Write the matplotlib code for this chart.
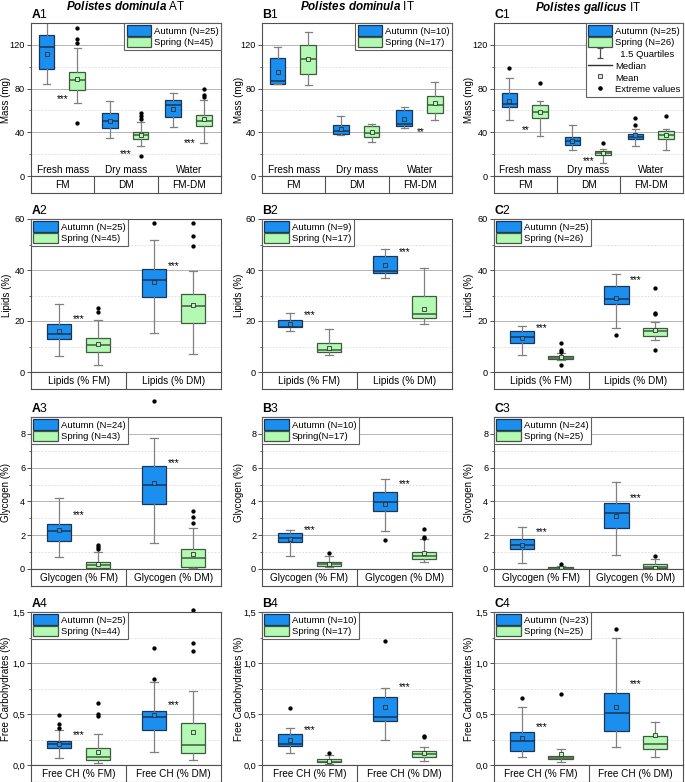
import matplotlib
matplotlib.use('Agg')
import matplotlib.pyplot as plt
import numpy as np
from matplotlib.patches import Patch
from matplotlib.lines import Line2D

plt.rcParams['font.family'] = ['Liberation Sans', 'DejaVu Sans']
plt.rcParams['mathtext.fontset'] = 'custom'
plt.rcParams['mathtext.rm'] = 'Liberation Sans'
plt.rcParams['mathtext.it'] = 'Liberation Sans:italic:bold'
plt.rcParams['mathtext.bf'] = 'Liberation Sans:bold'

# ---------------- data: [whislo, q1, median, q3, whishi, mean] ----------------
A1_autumn = [[84, 97.6, 117.6, 129, 141.5, 112], [34.8, 44, 50, 57.3, 68.5, 50.6], [44.5, 53.6, 64.8, 69.7, 75.8, 61.5]]
A1_autumn_out = [[], [], []]
A1_spring = [[66.7, 78.8, 87.6, 95.5, 117, 89], [27.3, 34.2, 37.3, 40, 49.4, 37.3], [30, 45.5, 50, 55.5, 69.4, 51.8]]
A1_spring_out = [[135, 125.5, 122, 48.5], [57.6, 55, 52, 18.5], [80, 74, 72]]
A1_stars = ["***", "***", "***"]
A1_star_y = [72.7, 23, 32.4]

B1_autumn = [[84, 84.5, 87, 108, 117.6, 95], [37.3, 38.5, 41.5, 46.7, 54.5, 43], [44.2, 46, 47.6, 60.6, 62.7, 51.8]]
B1_autumn_out = [[], [], []]
B1_spring = [[83, 93, 106.7, 120.3, 131.5, 106.7], [31.5, 36, 39.7, 45.5, 47.6, 40.3], [51.5, 57.6, 64.8, 73.6, 86.4, 66.4]]
B1_spring_out = [[], [], []]
B1_stars = ["", "", "**"]
B1_star_y = [0, 0, 43]

C1_autumn = [[51.5, 63.3, 65.8, 75.8, 90, 68.8], [23.6, 28.8, 31.8, 35.5, 46.4, 31.8], [27.6, 33.6, 36, 38.5, 42.7, 37.3]]
C1_autumn_out = [[99], [], [52.7, 46.7]]
C1_spring = [[36.7, 52.7, 58.2, 64.8, 68.8, 58.5], [11.8, 18.8, 21, 23, 24.5, 21], [24.2, 34.2, 37.3, 41.5, 43.3, 37.6]]
C1_spring_out = [[85], [30], [55]]
C1_stars = ["**", "***", ""]
C1_star_y = [44.5, 16.5, 0]

A2_autumn = [[6.3, 13, 15, 18.9, 26.7, 15.9], [15.3, 29.3, 35.9, 40.4, 51.9, 35.2]]
A2_autumn_out = [[], [58.4]]
A2_spring = [[2.6, 7.8, 10.4, 13.3, 20.2, 11], [7.2, 19.2, 25.8, 30.7, 39.8, 26.3]]
A2_spring_out = [[25, 23.5], [58.4, 53.5, 49.6]]
A2_star_y = [22, 42.8]

B2_autumn = [[15.9, 17.5, 17.8, 20.5, 23, 18.9], [36.8, 38.9, 39.8, 45.3, 48.3, 42]]
B2_autumn_out = [[], []]
B2_spring = [[6.5, 7.8, 8.5, 11.5, 17, 9.5], [18.7, 21.1, 22.8, 29.7, 40.8, 24.8]]
B2_spring_out = [[], []]
B2_star_y = [23.5, 48]

C2_autumn = [[6.5, 11.5, 13.8, 15.9, 17.9, 13.4], [17.3, 26.5, 28.7, 33.9, 38.5, 29]]
C2_autumn_out = [[], [14.6]]
C2_spring = [[4.6, 5.2, 5.6, 6.3, 7.3, 5.7], [12.4, 14.3, 15.9, 17.3, 19.8, 16.6]]
C2_spring_out = [[11.3, 8.5, 7.8, 2.9], [33, 23.2, 22.6, 8.5]]
C2_star_y = [18.3, 37.4]

A3_autumn = [[0.73, 1.65, 2.24, 2.69, 4.2, 2.3], [1.51, 3.83, 4.95, 6.09, 7.74, 5.11]]
A3_autumn_out = [[], [9.97]]
A3_spring = [[0.02, 0.08, 0.24, 0.43, 0.98, 0.29], [0.04, 0.14, 0.63, 1.18, 2.4, 0.86]]
A3_spring_out = [[1.45, 1.32, 1.18], [3.42, 3.09, 2.75]]
A3_star_y = [3.34, 6.43]

B3_autumn = [[0.79, 1.57, 1.81, 2.14, 2.3, 1.75], [2.24, 3.44, 3.97, 4.56, 5.3, 3.87]]
B3_autumn_out = [[], [1.71]]
B3_spring = [[0.14, 0.18, 0.29, 0.43, 0.77, 0.3], [0.41, 0.57, 0.77, 1.02, 1.75, 0.92]]
B3_spring_out = [[0.92], [2.34, 1.87, 1.81]]
B3_star_y = [2.5, 5.2]

C3_autumn = [[0.37, 1.16, 1.45, 1.79, 2.48, 1.45], [0.83, 2.44, 3.34, 3.93, 5.15, 3.14]]
C3_autumn_out = [[], []]
C3_spring = [[0.0, 0.02, 0.06, 0.1, 0.2, 0.06], [0.0, 0.04, 0.12, 0.28, 0.57, 0.08]]
C3_spring_out = [[0.28], [0.79]]
C3_star_y = [2.36, 4.36]

A4_autumn = [[0.066, 0.164, 0.206, 0.236, 0.34, 0.21], [0.131, 0.344, 0.475, 0.534, 0.81, 0.49]]
A4_autumn_out = [[0.36, 0.40, 0.495], [1.146, 0.84]]
A4_spring = [[0.016, 0.05, 0.082, 0.164, 0.305, 0.13], [0.05, 0.12, 0.193, 0.416, 0.727, 0.32]]
A4_spring_out = [[0.606, 0.5, 0.485], [1.52, 1.2, 1.12]]
A4_star_y = [0.32, 0.616]

B4_autumn = [[0.115, 0.19, 0.203, 0.305, 0.36, 0.25], [0.246, 0.436, 0.475, 0.665, 0.753, 0.567]]
B4_autumn_out = [[0.557], [1.218]]
B4_spring = [[0.01, 0.026, 0.033, 0.056, 0.10, 0.04], [0.04, 0.075, 0.105, 0.141, 0.174, 0.12]]
B4_spring_out = [[0.115], [0.285, 0.27]]
B4_star_y = [0.367, 0.79]

C4_autumn = [[0.075, 0.14, 0.236, 0.328, 0.573, 0.26], [0.174, 0.334, 0.514, 0.71, 1.25, 0.573]]
C4_autumn_out = [[0.655], [1.333]]
C4_spring = [[0.026, 0.059, 0.072, 0.092, 0.154, 0.108], [0.075, 0.157, 0.206, 0.288, 0.426, 0.295]]
C4_spring_out = [[0.694], []]
C4_star_y = [0.4, 0.82]

row1_inner = ["Fresh mass", "Dry mass", "Water"]
row1_band = ["FM", "DM", "FM-DM"]
row2_band = ["Lipids (% FM)", "Lipids (% DM)"]
row3_band = ["Glycogen (% FM)", "Glycogen (% DM)"]
row4_band = ["Free CH (% FM)", "Free CH (% DM)"]
ylabels = ["Mass (mg)", "Lipids (%)", "Glycogen (%)", "Free Carbohydrates (%)"]
titles = [("Polistes\\ dominula", "AT"), ("Polistes\\ dominula", "IT"), ("Polistes\\ gallicus", "IT")]

N_labels = {
    "A1": ("Autumn (N=25)", "Spring (N=45)"), "B1": ("Autumn (N=10)", "Spring (N=17)"), "C1": ("Autumn (N=25)", "Spring (N=26)"),
    "A2": ("Autumn (N=25)", "Spring (N=45)"), "B2": ("Autumn (N=9)", "Spring (N=17)"), "C2": ("Autumn (N=25)", "Spring (N=26)"),
    "A3": ("Autumn (N=24)", "Spring (N=43)"), "B3": ("Autumn (N=10)", "Spring(N=17)"), "C3": ("Autumn (N=24)", "Spring (N=25)"),
    "A4": ("Autumn (N=25)", "Spring (N=44)"), "B4": ("Autumn (N=10)", "Spring (N=17)"), "C4": ("Autumn (N=23)", "Spring (N=25)"),
}

# ---------------- layout ----------------
W, H = 685, 782
fig = plt.figure(figsize=(W / 100, H / 100), dpi=100)

col_x = [(31, 221), (262, 452), (494, 683)]
ylabel_cx = [6.5, 238.5, 469]
row_y = [(23, 176), (219, 372), (417, 569), (612, 765)]
band_h = 16.5

AUT_FC, AUT_EC = '#1a8ff0', '#1d3550'
SPR_FC, SPR_EC = '#b3f9b3', '#3f5a3f'
WHISK = '#808080'
SPINE = '#505050'
FS_TICK = 6.6
FS_LEG = 6.8
FS_LAB = 7.0

row_cfg = [
    dict(ylim=(0, 140), major=[0, 40, 80, 120], minor=[20, 60, 100], fmt=None, ngroups=3, offs=(0.245, 0.73), w=0.25, cw=0.11),
    dict(ylim=(0, 60), major=[0, 20, 40, 60], minor=[10, 30, 50], fmt=None, ngroups=2, offs=(0.295, 0.705), w=0.26, cw=0.085),
    dict(ylim=(0, 9), major=[0, 2, 4, 6, 8], minor=[1, 3, 5, 7], fmt=None, ngroups=2, offs=(0.295, 0.705), w=0.26, cw=0.085),
    dict(ylim=(0, 1.5), major=[0, 0.5, 1.0, 1.5], minor=[0.25, 0.75, 1.25], fmt=['0,0', '0,5', '1,0', '1,5'], ngroups=2, offs=(0.295, 0.705), w=0.26, cw=0.085),
]

panels = {
    "A1": (A1_autumn, A1_autumn_out, A1_spring, A1_spring_out, A1_stars, A1_star_y),
    "B1": (B1_autumn, B1_autumn_out, B1_spring, B1_spring_out, B1_stars, B1_star_y),
    "C1": (C1_autumn, C1_autumn_out, C1_spring, C1_spring_out, C1_stars, C1_star_y),
    "A2": (A2_autumn, A2_autumn_out, A2_spring, A2_spring_out, ["***", "***"], A2_star_y),
    "B2": (B2_autumn, B2_autumn_out, B2_spring, B2_spring_out, ["***", "***"], B2_star_y),
    "C2": (C2_autumn, C2_autumn_out, C2_spring, C2_spring_out, ["***", "***"], C2_star_y),
    "A3": (A3_autumn, A3_autumn_out, A3_spring, A3_spring_out, ["***", "***"], A3_star_y),
    "B3": (B3_autumn, B3_autumn_out, B3_spring, B3_spring_out, ["***", "***"], B3_star_y),
    "C3": (C3_autumn, C3_autumn_out, C3_spring, C3_spring_out, ["***", "***"], C3_star_y),
    "A4": (A4_autumn, A4_autumn_out, A4_spring, A4_spring_out, ["***", "***"], A4_star_y),
    "B4": (B4_autumn, B4_autumn_out, B4_spring, B4_spring_out, ["***", "***"], B4_star_y),
    "C4": (C4_autumn, C4_autumn_out, C4_spring, C4_spring_out, ["***", "***"], C4_star_y),
}
band_labels = [row1_band, row2_band, row3_band, row4_band]


def mkstats(stats, outs):
    res = []
    for s, o in zip(stats, outs):
        res.append(dict(whislo=s[0], q1=s[1], med=s[2], q3=s[3], whishi=s[4], mean=s[5], fliers=np.array(o, dtype=float)))
    return res


def draw_boxes(ax, stats, outs, pos, w, cw, fc, ec):
    bp = ax.bxp(mkstats(stats, outs), positions=pos, widths=w, capwidths=cw, patch_artist=True,
                showmeans=True, manage_ticks=False,
                boxprops=dict(facecolor=fc, edgecolor=ec, linewidth=0.9),
                medianprops=dict(color=ec, linewidth=1.1),
                whiskerprops=dict(color=WHISK, linewidth=0.9),
                capprops=dict(color=WHISK, linewidth=0.9),
                flierprops=dict(marker='o', markersize=2.1, markerfacecolor='black', markeredgecolor='black', linestyle='none'),
                meanprops=dict(marker='s', markersize=2.3, markerfacecolor=fc, markeredgecolor='#303030', markeredgewidth=0.6))
    for f in bp['fliers']:
        f.set_clip_on(False)
    return bp


for r in range(4):
    cfg = row_cfg[r]
    for c in range(3):
        key = "ABC"[c] + str(r + 1)
        x0, x1 = col_x[c]
        y0, y1 = row_y[r]
        ax = fig.add_axes([x0 / W, 1 - y1 / H, (x1 - x0) / W, (y1 - y0) / H])
        aut, aut_out, spr, spr_out, stars, star_y = panels[key]
        ng = cfg['ngroups']
        groups = np.arange(ng)
        draw_boxes(ax, aut, aut_out, groups + cfg['offs'][0], cfg['w'], cfg['cw'], AUT_FC, AUT_EC)
        draw_boxes(ax, spr, spr_out, groups + cfg['offs'][1], cfg['w'], cfg['cw'], SPR_FC, SPR_EC)
        ax.set_xlim(0, ng)
        ax.set_ylim(*cfg['ylim'])
        ax.set_xticks([])
        ax.set_yticks(cfg['major'])
        ax.set_yticks(cfg['minor'], minor=True)
        if cfg['fmt']:
            ax.set_yticklabels(cfg['fmt'])
        ax.tick_params(axis='y', which='major', labelsize=FS_TICK, length=3, width=0.7, color=SPINE, pad=1.2)
        ax.tick_params(axis='y', which='minor', length=1.8, width=0.6, color=SPINE)
        ax.yaxis.grid(True, which='major', color='#b4b4b4', linewidth=0.7)
        ax.yaxis.grid(True, which='minor', color='#d9d9d9', linewidth=0.6, linestyle=(0, (2, 2)))
        ax.set_axisbelow(True)
        for sp in ax.spines.values():
            sp.set_color(SPINE)
            sp.set_linewidth(0.8)
        ax.set_ylabel(ylabels[r], fontsize=FS_LAB)
        ax.yaxis.label.set_verticalalignment('center')
        ax.yaxis.set_label_coords((ylabel_cx[c] - x0) / (x1 - x0), 0.5)

        for g, (s, y) in enumerate(zip(stars, star_y)):
            if s:
                ax.annotate(s, (g + 0.5, y), xytext=(0, -4.3), textcoords='offset points',
                            ha='center', va='baseline', fontsize=7.2)

        if r == 0:
            for g, lab in enumerate(row1_inner):
                ax.text(g + 0.5, 0.004, lab, transform=ax.get_xaxis_transform(),
                        ha='center', va='bottom', fontsize=FS_LAB + 0.2)

        # panel label
        ax.text(0.0, 1.01, r'$\mathbf{' + key[0] + '}$' + key[1], transform=ax.transAxes,
                ha='left', va='bottom', fontsize=8.8)

        # legend
        la, ls = N_labels[key]
        handles = [Patch(facecolor=AUT_FC, edgecolor=AUT_EC, linewidth=0.9, label=la),
                   Patch(facecolor=SPR_FC, edgecolor=SPR_EC, linewidth=0.9, label=ls)]
        if key == "C1":
            eb = ax.errorbar([np.nan], [np.nan], yerr=[[1.0], [1.0]], fmt='none', ecolor='#505050',
                             capsize=2.2, elinewidth=0.9, capthick=0.9)
            handles += [eb,
                        Line2D([], [], color='#303030', linewidth=1.0),
                        Line2D([], [], linestyle='none', marker='s', markersize=2.3, markerfacecolor='#dddddd',
                               markeredgecolor='#303030', markeredgewidth=0.6),
                        Line2D([], [], linestyle='none', marker='o', markersize=2.3, color='black')]
            labels = [la, ls, "  1.5 Quartiles", "Median", "Mean", "Extreme values"]
        else:
            labels = [la, ls]
        leg = ax.legend(handles, labels, loc='upper right' if r == 0 else 'upper left',
                        fontsize=FS_LEG, frameon=True, fancybox=False, framealpha=1, edgecolor='#606060',
                        borderaxespad=0, borderpad=0.25, labelspacing=0.15, handlelength=2.6,
                        handleheight=1.3, handletextpad=0.3)
        leg.get_frame().set_linewidth(0.8)
        leg.set_zorder(10)

        # category band below axes
        bx = fig.add_axes([x0 / W, 1 - (y1 + band_h) / H, (x1 - x0) / W, band_h / H])
        bx.set_xlim(0, ng)
        bx.set_ylim(0, 1)
        bx.set_xticks([])
        bx.set_yticks([])
        for sp in bx.spines.values():
            sp.set_color(SPINE)
            sp.set_linewidth(0.8)
        for g in range(1, ng):
            bx.axvline(g, color=SPINE, linewidth=0.8)
        for g, lab in enumerate(band_labels[r]):
            bx.text(g + 0.5, 0.45, lab, ha='center', va='center', fontsize=FS_LAB + 0.2)

# titles
for c in range(3):
    x0, x1 = col_x[c]
    sp, loc = titles[c]
    fig.text((x0 + x1) / 2 / W, 1 - 10.5 / H, r'$\mathit{' + sp + '}$ ' + loc, ha='center', va='baseline', fontsize=8.4)

fig.savefig('out.png', dpi=100)
